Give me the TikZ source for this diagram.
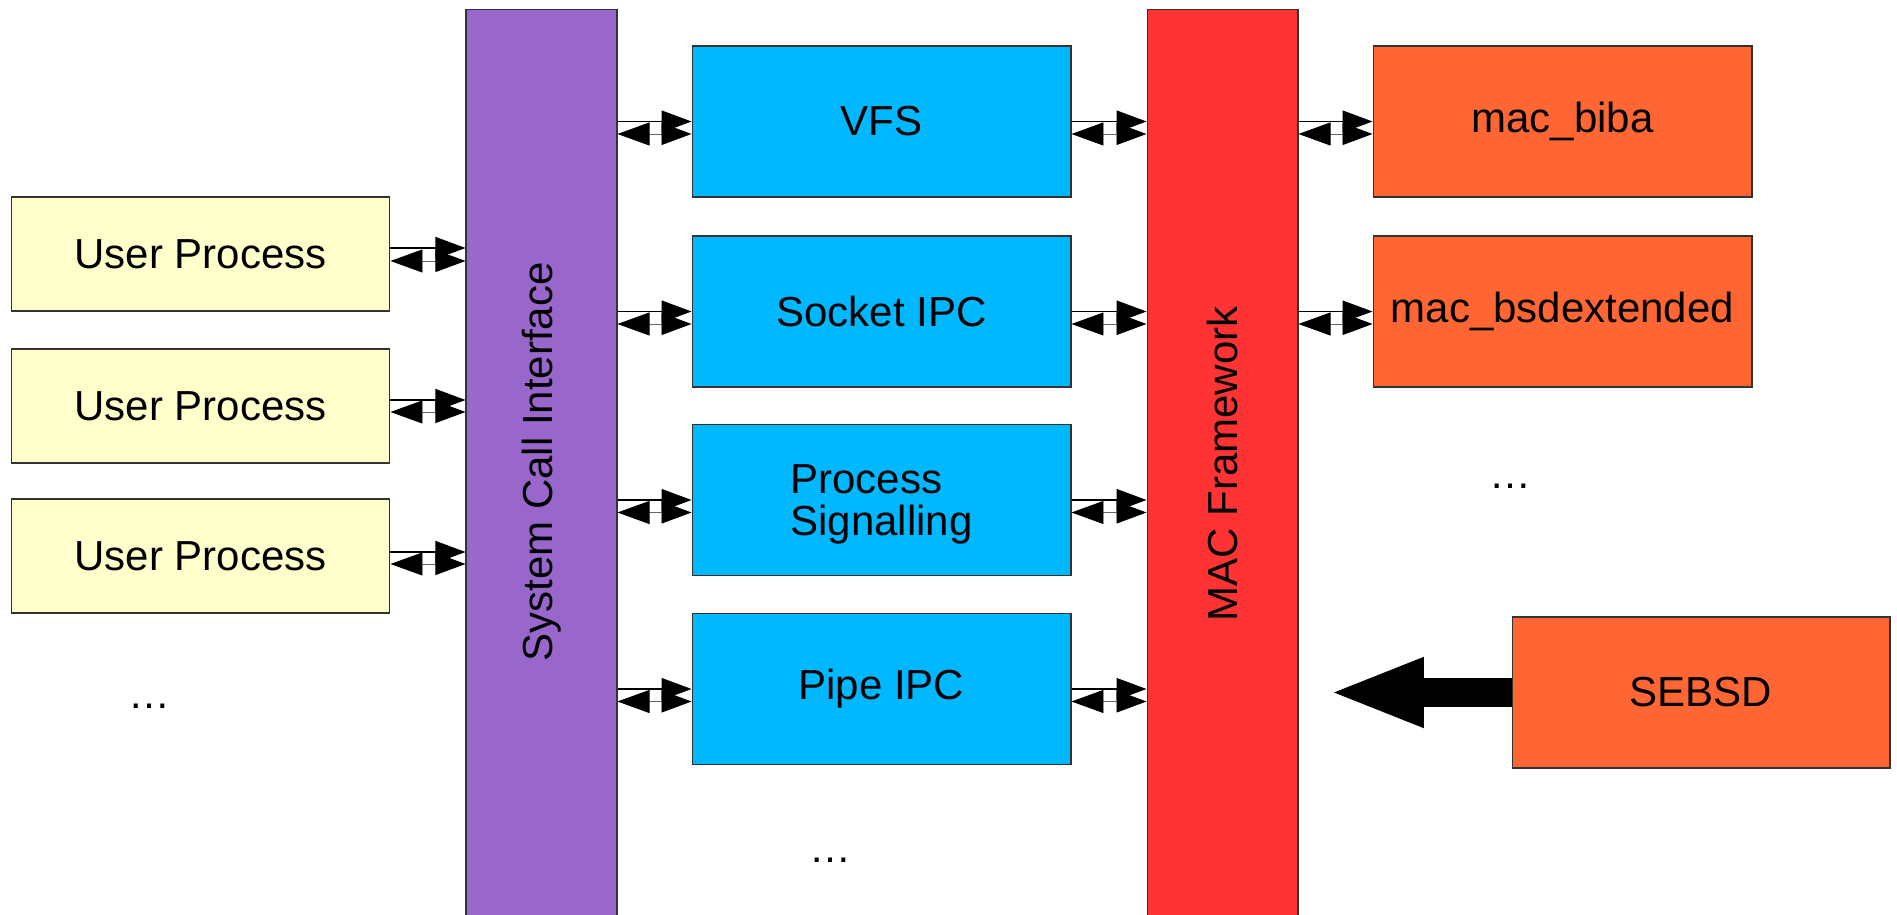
\documentclass[tikz,border=0pt]{standalone}
\usepackage{fontspec}
\setmainfont{Liberation Sans}
\usetikzlibrary{arrows.meta}
\usetikzlibrary{positioning}
\definecolor{userc}{HTML}{FFFFCC}
\definecolor{sysc}{HTML}{9966CC}
\definecolor{subc}{HTML}{00B8FF}
\definecolor{macc}{HTML}{FF3333}
\definecolor{polc}{HTML}{FF6633}
\definecolor{edgec}{HTML}{333333}
% two arrows between #1 and #2, at the height of #3
\newcommand{\linkpair}[5]{%
  \path ([yshift=#4]#3.center) coordinate (lk up)
        ([yshift=#5]#3.center) coordinate (lk down);
  \draw[fwd] (#1.east |- lk up) -- (#2.west |- lk up);
  \draw[bck] (#1.east |- lk down) -- (#2.west |- lk down);}
\tikzset{
every node/.style={font=\fontsize{23.9}{24.3}\selectfont},
my box/.style={draw=edgec,line width=0.6pt,rectangle,inner sep=0pt},
user/.style={my box,fill=userc,minimum width=7.58cm,minimum height=2.28cm},
sub/.style={my box,fill=subc,minimum width=7.58cm,minimum height=3.02cm},
pol/.style={my box,fill=polc,minimum width=7.58cm,minimum height=3.02cm},
bar/.style={my box,minimum width=3.02cm,minimum height=18.5cm},
fwd/.style={line width=0.6pt,-{Triangle[length=0.6cm,width=0.44cm]}},
bck/.style={line width=0.5pt,draw=black!60,
  {Triangle[length=0.64cm,width=0.46cm,color=black]}-{Triangle[length=0.6cm,width=0.44cm,color=black]}},
dots/.style={anchor=base}
}
\begin{document}
\begin{tikzpicture}[x=0.02cm,y=-0.02cm]
\clip (0,0) rectangle (1897,915);
% kernel layers
\node[bar,fill=sysc] (sci) at (541.5,472) {};
\node[rotate=90] (scitext) at (541.5,462) {System Call Interface};
\node[bar,fill=macc] (mac) at (1222.5,472) {};
\node[rotate=90] (mactext) at (1222.5,464) {MAC Framework};
% user processes
\node[user] (up1) at (200.5,254) {User Process};
\node[user] (up2) at (200.5,406) {User Process};
\node[user] (up3) at (200.5,556) {User Process};
\node[dots] (updots) at (149,708) {\ldots};
% kernel services
\node[sub] (vfs)    at (881.5,121.5) {VFS};
\node[sub] (socket) at (881.5,311.5) {Socket IPC};
\node[sub,align=left,text depth=0pt] (signal) at (881.5,500) {Process\\Signalling};
\node[sub] (pipe)   at (881.5,689) {Pipe IPC};
\node[dots] (subdots) at (830,862) {\ldots};
% policies
\node[pol] (biba)   at (1562.5,121.5) {mac\_biba};
\node[pol] (bsdext) at (1562.5,311.5) {mac\_bsdextended};
\node[dots] (poldots) at (1510,488) {\ldots};
\node[pol,minimum width=7.56cm] (sebsd) at (1701,692.5) {SEBSD};
\coordinate (sebsdtip) at (1328,692.5);
% connectors
\linkpair{up1}{sci}{up1}{0.12cm}{-0.14cm}
\linkpair{up2}{sci}{up2}{0.12cm}{-0.12cm}
\linkpair{up3}{sci}{up3}{0.08cm}{-0.16cm}
\linkpair{sci}{vfs}{vfs}{0cm}{-0.25cm}
\linkpair{sci}{socket}{socket}{0cm}{-0.25cm}
\linkpair{sci}{signal}{signal}{0cm}{-0.25cm}
\linkpair{sci}{pipe}{pipe}{0cm}{-0.25cm}
\linkpair{vfs}{mac}{vfs}{0cm}{-0.25cm}
\linkpair{socket}{mac}{socket}{0cm}{-0.25cm}
\linkpair{signal}{mac}{signal}{0cm}{-0.25cm}
\linkpair{pipe}{mac}{pipe}{0cm}{-0.25cm}
\linkpair{mac}{biba}{biba}{0cm}{-0.25cm}
\linkpair{mac}{bsdext}{bsdext}{0cm}{-0.25cm}
\draw[line width=0.6cm,-{Triangle[length=1.92cm,width=1.26cm]}] (sebsd.west) -- (sebsdtip);
\end{tikzpicture}
\end{document}
